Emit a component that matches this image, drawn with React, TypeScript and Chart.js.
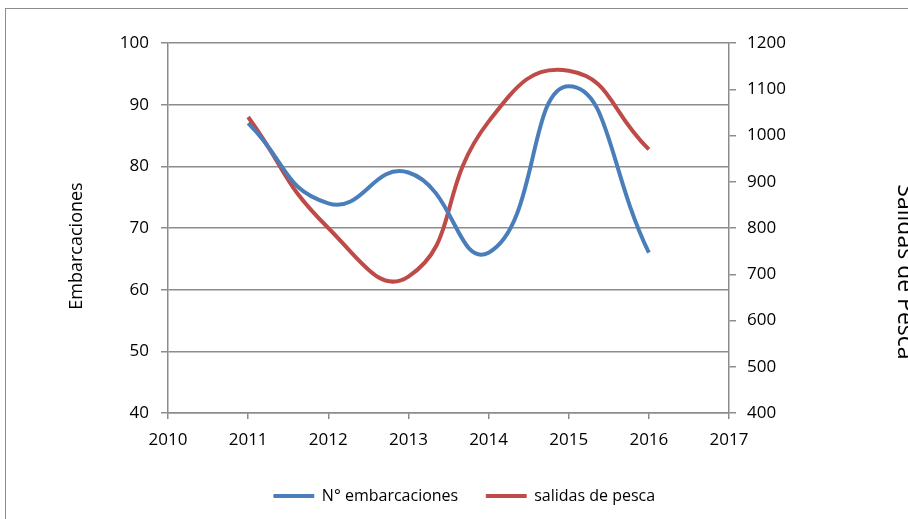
import React, { useEffect, useRef } from "react";
import { Chart, registerables } from "chart.js";

Chart.register(...registerables);

const years = [2011, 2012, 2013, 2014, 2015, 2016];
const embarcaciones = [87, 74, 79, 66, 93, 66];
const salidas = [1040, 800, 695, 1030, 1140, 970];
const seriesNames = ["N° embarcaciones", "salidas de pesca"];
const leftTitle = "Embarcaciones";
const rightTitle = "Salidas de Pesca";

const BLUE = "#4a7ebb";
const RED = "#be4b48";
const GRID = "#8c8c8c";
const FONT = "'Open Sans', sans-serif";

const titlesPlugin = {
  id: "sideTitles",
  afterDraw(chart: any) {
    const { ctx, chartArea } = chart;
    const midY = (chartArea.top + chartArea.bottom) / 2;
    ctx.save();
    ctx.fillStyle = "#000";
    ctx.textAlign = "center";
    ctx.textBaseline = "middle";
    ctx.font = `18px ${FONT}`;
    ctx.translate(chartArea.left - 91, midY + 18);
    ctx.rotate(-Math.PI / 2);
    ctx.fillText(leftTitle, 0, 0);
    ctx.restore();
    ctx.save();
    ctx.fillStyle = "#000";
    ctx.textAlign = "center";
    ctx.textBaseline = "middle";
    ctx.font = `23px ${FONT}`;
    ctx.translate(chartArea.right + 176, midY + 44);
    ctx.rotate(Math.PI / 2);
    ctx.fillText(rightTitle, 0, 0);
    ctx.restore();
  },
};

export default function App() {
  const ref = useRef<HTMLCanvasElement>(null);
  useEffect(() => {
    if (!ref.current) return;
    const chart = new Chart(ref.current, {
      type: "line",
      data: {
        datasets: [
          {
            label: seriesNames[0],
            data: years.map((x, i) => ({ x, y: embarcaciones[i] })),
            borderColor: BLUE,
            backgroundColor: BLUE,
            borderWidth: 4,
            pointRadius: 0,
            tension: 0.5,
            yAxisID: "y",
          },
          {
            label: seriesNames[1],
            data: years.map((x, i) => ({ x, y: salidas[i] })),
            borderColor: RED,
            backgroundColor: RED,
            borderWidth: 4,
            pointRadius: 0,
            tension: 0.5,
            yAxisID: "y2",
          },
        ],
      },
      options: {
        animation: false,
        responsive: false,
        layout: { padding: { top: 43, left: 0, right: 0, bottom: 5 } },
        plugins: {
          tooltip: { enabled: false },
          legend: {
            position: "bottom",
            labels: {
              boxWidth: 40,
              boxHeight: 3,
              padding: 28,
              color: "#000",
              font: { family: FONT, size: 16 },
              generateLabels: (c: any) =>
                c.data.datasets.map((d: any, i: number) => ({
                  text: d.label,
                  fillStyle: d.borderColor,
                  strokeStyle: d.borderColor,
                  lineWidth: 1,
                  datasetIndex: i,
                  hidden: false,
                })),
            },
          },
        },
        scales: {
          x: {
            type: "linear",
            min: 2010,
            max: 2017,
            afterFit: (s: any) => {
              s.height = 47;
            },
            ticks: {
              stepSize: 1,
              color: "#000",
              padding: 11,
              font: { family: FONT, size: 17 },
              callback: (v: any) => String(v),
            },
            grid: { drawOnChartArea: false, drawTicks: true, tickLength: 6, color: GRID, lineWidth: 1.5 },
            border: { display: true, color: GRID, width: 1.5 },
          },
          y: {
            position: "left",
            min: 40,
            max: 100,
            afterFit: (s: any) => {
              s.width = 168;
            },
            ticks: {
              stepSize: 10,
              color: "#000",
              padding: 12,
              font: { family: FONT, size: 17 },
              callback: (v: any) => String(v),
            },
            grid: { color: GRID, lineWidth: 1.5, tickLength: 7 },
            border: { display: true, color: GRID, width: 1.5 },
          },
          y2: {
            position: "right",
            min: 400,
            max: 1200,
            afterFit: (s: any) => {
              s.width = 200;
            },
            ticks: {
              stepSize: 100,
              color: "#000",
              padding: 11,
              font: { family: FONT, size: 17 },
              callback: (v: any) => String(v),
            },
            grid: { drawOnChartArea: false, color: GRID, lineWidth: 1.5, tickLength: 7 },
            border: { display: true, color: GRID, width: 1.5 },
          },
        },
      },
      plugins: [titlesPlugin],
    } as any);
    return () => chart.destroy();
  }, []);
  return (
    <div style={{ position: "fixed", left: 0, top: 0, width: 908, height: 519, overflow: "hidden", background: "#fff" }}>
      <div
        style={{
          position: "absolute",
          left: 5,
          top: 8,
          width: 1000,
          height: 600,
          border: "1px solid #8c8c8c",
        }}
      />
      <canvas ref={ref} width={929} height={519} style={{ position: "absolute", left: 0, top: 0, width: 929, height: 519 }} />
    </div>
  );
}
